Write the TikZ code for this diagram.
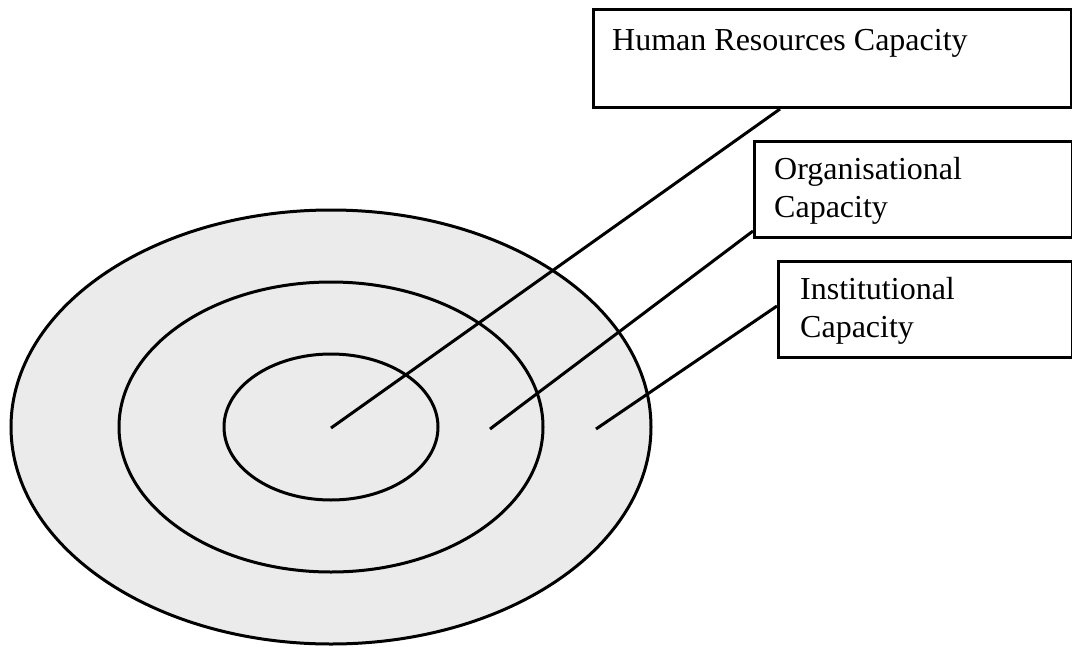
\documentclass[tikz,border=0pt]{standalone}
\usepackage{fontspec}
\setmainfont{Liberation Serif}
\begin{document}
\begin{tikzpicture}[x=1pt,y=-1pt,
  ring/.style={draw=black, line width=3pt, fill=black!8},
  capbox/.style={draw=black, line width=3pt, rectangle, anchor=north west, inner sep=0pt},
  captext/.style={anchor=base west, inner sep=0pt, font=\fontsize{32}{37.5}\selectfont, align=left},
  link/.style={draw=black, line width=3pt}]
\useasboundingbox (0,0) rectangle (1072,646);

% concentric capacity levels
\coordinate (ctr) at (331,427);
\path[ring] (ctr) ellipse [x radius=320, y radius=217];
\path[ring] (ctr) ellipse [x radius=212, y radius=145];
\path[ring] (ctr) ellipse [x radius=107, y radius=73];

% pointers into each level
\coordinate (pin1) at (331,428);
\coordinate (pin2) at (490,429);
\coordinate (pin3) at (596,429);

% caption boxes
\node[capbox, minimum width=478, minimum height=98] (hr) at (592,8) {};
\node[capbox, minimum width=318, minimum height=96] (org) at (753,140) {};
\node[capbox, minimum width=294, minimum height=96] (inst) at (777,260) {};

% captions (two-line nodes are placed by the baseline of their last line)
\node[captext] (hrt) at (612,50) {Human Resources Capacity};
\node[captext] (orgt) at (774,217) {Organisational\\Capacity};
\node[captext] (instt) at (800,337) {Institutional\\Capacity};

% connectors
\draw[link] (pin1) -- ([xshift=188pt]hr.south west);
\draw[link] (pin2) -- ([yshift=8pt]org.south west);
\draw[link] (pin3) -- ([yshift=53pt]inst.south west);
\end{tikzpicture}
\end{document}
